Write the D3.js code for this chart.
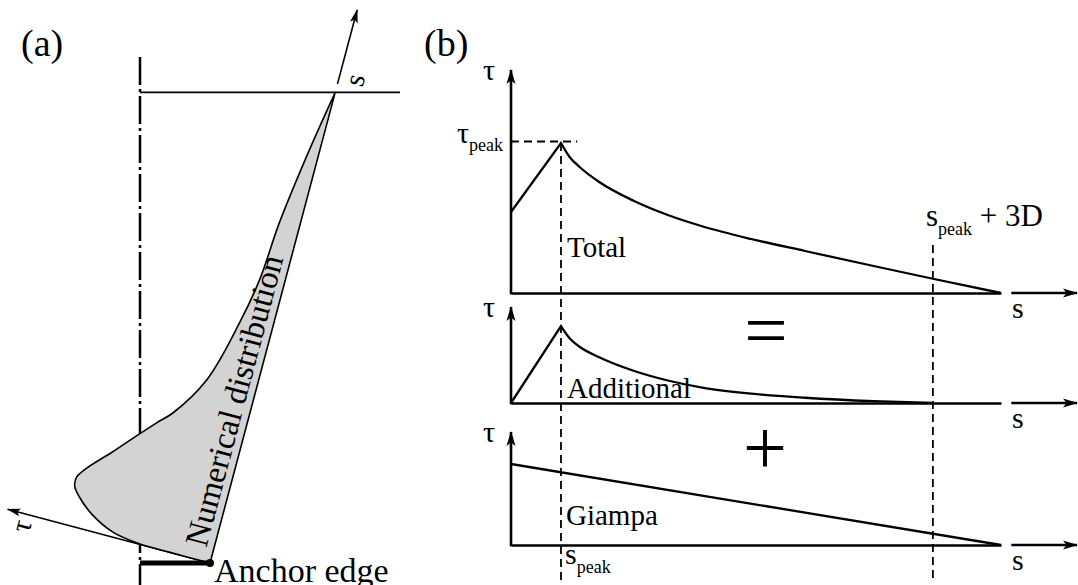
<!DOCTYPE html>
<html><head><meta charset="utf-8">
<script src="https://cdn.jsdelivr.net/npm/d3@7"></script>
<style>
body{margin:0;background:#fff}
svg{display:block}
text{font-family:"Liberation Serif","Times New Roman",serif;fill:#000}
</style></head><body>
<svg id="c" width="1078" height="585"></svg>
<script>
// ---------- Panel (b) data (s in % of the anchor length, tau relative to tau_peak) ----------
const totalS = [0, 10.2, 12, 14, 18, 25, 32, 39, 49, 60, 74, 86.1, 100];
const totalTau = [0.54, 1.0, 0.905, 0.84, 0.74, 0.615, 0.52, 0.445, 0.36, 0.28, 0.18, 0.095, 0];
const additionalS = [0, 10.2, 12, 14, 18, 25, 32, 39, 49, 60, 74, 86.1];
const additionalTau = [0, 0.513, 0.43, 0.375, 0.305, 0.215, 0.15, 0.103, 0.062, 0.035, 0.012, 0];
const giampaS = [0, 100];
const giampaTau = [0.54, 0];
const sPeak = 10.2;
const sPeak3D = 86.1;
const tauPeak = 1.0;
const panelNames = ["Total", "Additional", "Giampa"];

// ---------- Panel (a) data: numerical distribution in the local (s, tau) frame ----------
const numS = [0, 0, 0.06, 1.0, 3.3, 6.2, 8.1, 10.0, 12.5, 16.8, 21.9, 25.0, 27.8, 36.2, 49.3, 58.9, 71.2, 85.8, 100];
const numTau = [0, 8.5, 14.9, 20.9, 25.8, 29.4, 30.9, 31.0, 29.3, 25.3, 20.8, 18.0, 15.3, 10.3, 6.8, 5.1, 4.2, 2.3, 0];

const svg = d3.select("#c");
const defs = svg.append("defs");
defs.append("marker").attr("id","arrB").attr("viewBox","0 0 15 10").attr("refX",14).attr("refY",5)
  .attr("markerWidth",15).attr("markerHeight",10).attr("orient","auto").attr("markerUnits","userSpaceOnUse")
  .append("path").attr("d","M0,0.5 L15,5 L0,9.5 L3.5,5 Z").attr("fill","#000");
defs.append("marker").attr("id","arrA").attr("viewBox","0 0 14 9").attr("refX",13).attr("refY",4.5)
  .attr("markerWidth",14).attr("markerHeight",9).attr("orient","auto").attr("markerUnits","userSpaceOnUse")
  .append("path").attr("d","M0,0.5 L14,4.5 L0,8.5 L3,4.5 Z").attr("fill","#000");

// ================= Panel (a) =================
svg.append("text").attr("x",21).attr("y",56).attr("font-size",38).text("(a)");
svg.append("line").attr("x1",140).attr("x2",140).attr("y1",57).attr("y2",585)
  .attr("stroke","#000").attr("stroke-width",2.5).attr("stroke-dasharray","28,4,3,4");

const anchor = [210, 563];
const gA = svg.append("g").attr("transform",`translate(${anchor[0]},${anchor[1]}) rotate(-75.1)`);
const sA = d3.scaleLinear().domain([0,100]).range([0,487]);
const tA = d3.scaleLinear().domain([0,100]).range([0,-487]);

const apexY = anchor[1] - 487*Math.sin(75.1*Math.PI/180);
svg.append("line").attr("x1",140).attr("x2",400).attr("y1",apexY).attr("y2",apexY)
  .attr("stroke","#000").attr("stroke-width",1.6);

gA.append("line").attr("x1",sA(0)).attr("y1",tA(0)).attr("x2",sA(0)).attr("y2",tA(43))
  .attr("stroke","#000").attr("stroke-width",1.6).attr("marker-end","url(#arrA)");
gA.append("line").attr("x1",sA(101.8)).attr("y1",tA(0)).attr("x2",sA(117.5)).attr("y2",tA(0))
  .attr("stroke","#000").attr("stroke-width",1.6).attr("marker-end","url(#arrA)");

const numPts = numS.map((s,i)=>[s,numTau[i]]);
const areaLine = d3.line().x(d=>sA(d[0])).y(d=>tA(d[1])).curve(d3.curveCatmullRom.alpha(0.5));
gA.append("path").attr("d", areaLine(numPts) + "Z")
  .attr("fill","#d3d3d3").attr("stroke","#000").attr("stroke-width",1.6).attr("stroke-linejoin","round");

gA.append("text").attr("x",sA(33.5)).attr("y",tA(1.5)).attr("text-anchor","middle")
  .attr("font-size",33).text("Numerical distribution");
gA.append("text").attr("x",sA(103.5)).attr("y",tA(-3.1)).attr("text-anchor","middle")
  .attr("dominant-baseline","central").attr("font-size",29).text("s");
gA.append("text").attr("x",sA(-2.6)).attr("y",tA(39.5)).attr("text-anchor","middle")
  .attr("dominant-baseline","central").attr("font-size",29).text("τ");

svg.append("line").attr("x1",140).attr("x2",anchor[0]).attr("y1",anchor[1]).attr("y2",anchor[1])
  .attr("stroke","#000").attr("stroke-width",5);
svg.append("circle").attr("cx",anchor[0]).attr("cy",anchor[1]).attr("r",4).attr("fill","#000");
svg.append("text").attr("x",214).attr("y",582).attr("font-size",34).text("Anchor edge");

// ================= Panel (b) =================
svg.append("text").attr("x",424).attr("y",56).attr("font-size",38).text("(b)");
const x = d3.scaleLinear().domain([0,100]).range([511,1001]);
const rows = [
  {base:293, tip:70,  s:totalS, v:totalTau, split:true},
  {base:403, tip:307, s:additionalS, v:additionalTau, split:true},
  {base:545, tip:432, s:giampaS, v:giampaTau, split:false}
];
const labelPos = [[567,257],[567,398],[566,525]];
rows.forEach((r,i)=>{
  const y = d3.scaleLinear().domain([0,1]).range([r.base, r.base-150]);
  r.y = y;
  const gx = svg.append("g").attr("transform",`translate(0,${r.base})`)
    .call(d3.axisBottom(x).tickValues([]).tickSizeOuter(0));
  gx.select(".domain").attr("stroke","#000").attr("stroke-width",2.6);
  svg.append("line").attr("x1",x(102.1)).attr("x2",1077).attr("y1",r.base).attr("y2",r.base)
    .attr("stroke","#000").attr("stroke-width",2.6).attr("marker-end","url(#arrB)");
  svg.append("line").attr("x1",x(0)).attr("x2",x(0)).attr("y1",r.base+1.3).attr("y2",r.tip)
    .attr("stroke","#000").attr("stroke-width",2.6).attr("marker-end","url(#arrB)");
  svg.append("text").attr("x",483).attr("y",r.tip+10).attr("font-size",30).text("τ");
  svg.append("text").attr("x",1012).attr("y",r.base+25).attr("font-size",30).text("s");
  const pts = r.s.map((s,j)=>[s,r.v[j]]);
  const lin = d3.line().x(d=>x(d[0])).y(d=>y(d[1]));
  const mono = d3.line().x(d=>x(d[0])).y(d=>y(d[1])).curve(d3.curveMonotoneX);
  if (r.split) {
    const k = r.s.indexOf(sPeak);
    svg.append("path").attr("d", lin(pts.slice(0,k+1)) + mono(pts.slice(k)).replace(/^M[^LC]*/,""))
      .attr("fill","none").attr("stroke","#000").attr("stroke-width",2.3).attr("stroke-linejoin","miter");
  } else {
    svg.append("path").attr("d", lin(pts)).attr("fill","none").attr("stroke","#000").attr("stroke-width",2.3);
  }
  svg.append("text").attr("x",labelPos[i][0]).attr("y",labelPos[i][1]).attr("font-size",29).text(panelNames[i]);
});

const dash = "8,5";
svg.append("line").attr("x1",x(sPeak)).attr("x2",x(sPeak)).attr("y1",rows[0].y(tauPeak)).attr("y2",584)
  .attr("stroke","#000").attr("stroke-width",1.8).attr("stroke-dasharray",dash);
svg.append("line").attr("x1",x(sPeak3D)).attr("x2",x(sPeak3D)).attr("y1",245).attr("y2",578)
  .attr("stroke","#000").attr("stroke-width",1.8).attr("stroke-dasharray",dash);
svg.append("line").attr("x1",x(0)).attr("x2",x(13.5)).attr("y1",rows[0].y(tauPeak)-1.5).attr("y2",rows[0].y(tauPeak)-1.5)
  .attr("stroke","#000").attr("stroke-width",1.8).attr("stroke-dasharray",dash);

const tp = svg.append("text").attr("x",457).attr("y",143).attr("font-size",30);
tp.append("tspan").text("τ");
tp.append("tspan").attr("font-size",18).attr("dy",8).text("peak");
const sp = svg.append("text").attr("x",565).attr("y",564).attr("font-size",30);
sp.append("tspan").text("s");
sp.append("tspan").attr("font-size",18).attr("dy",9).text("peak");
const s3 = svg.append("text").attr("x",926).attr("y",226).attr("font-size",31);
s3.append("tspan").text("s");
s3.append("tspan").attr("font-size",18).attr("dy",9).text("peak");
s3.append("tspan").attr("dy",-9).text(" + 3D");

svg.append("text").attr("x",766).attr("y",356).attr("text-anchor","middle").attr("font-size",77).text("=");
svg.append("text").attr("x",765).attr("y",474).attr("text-anchor","middle").attr("font-size",78).text("+");
</script>
</body></html>
